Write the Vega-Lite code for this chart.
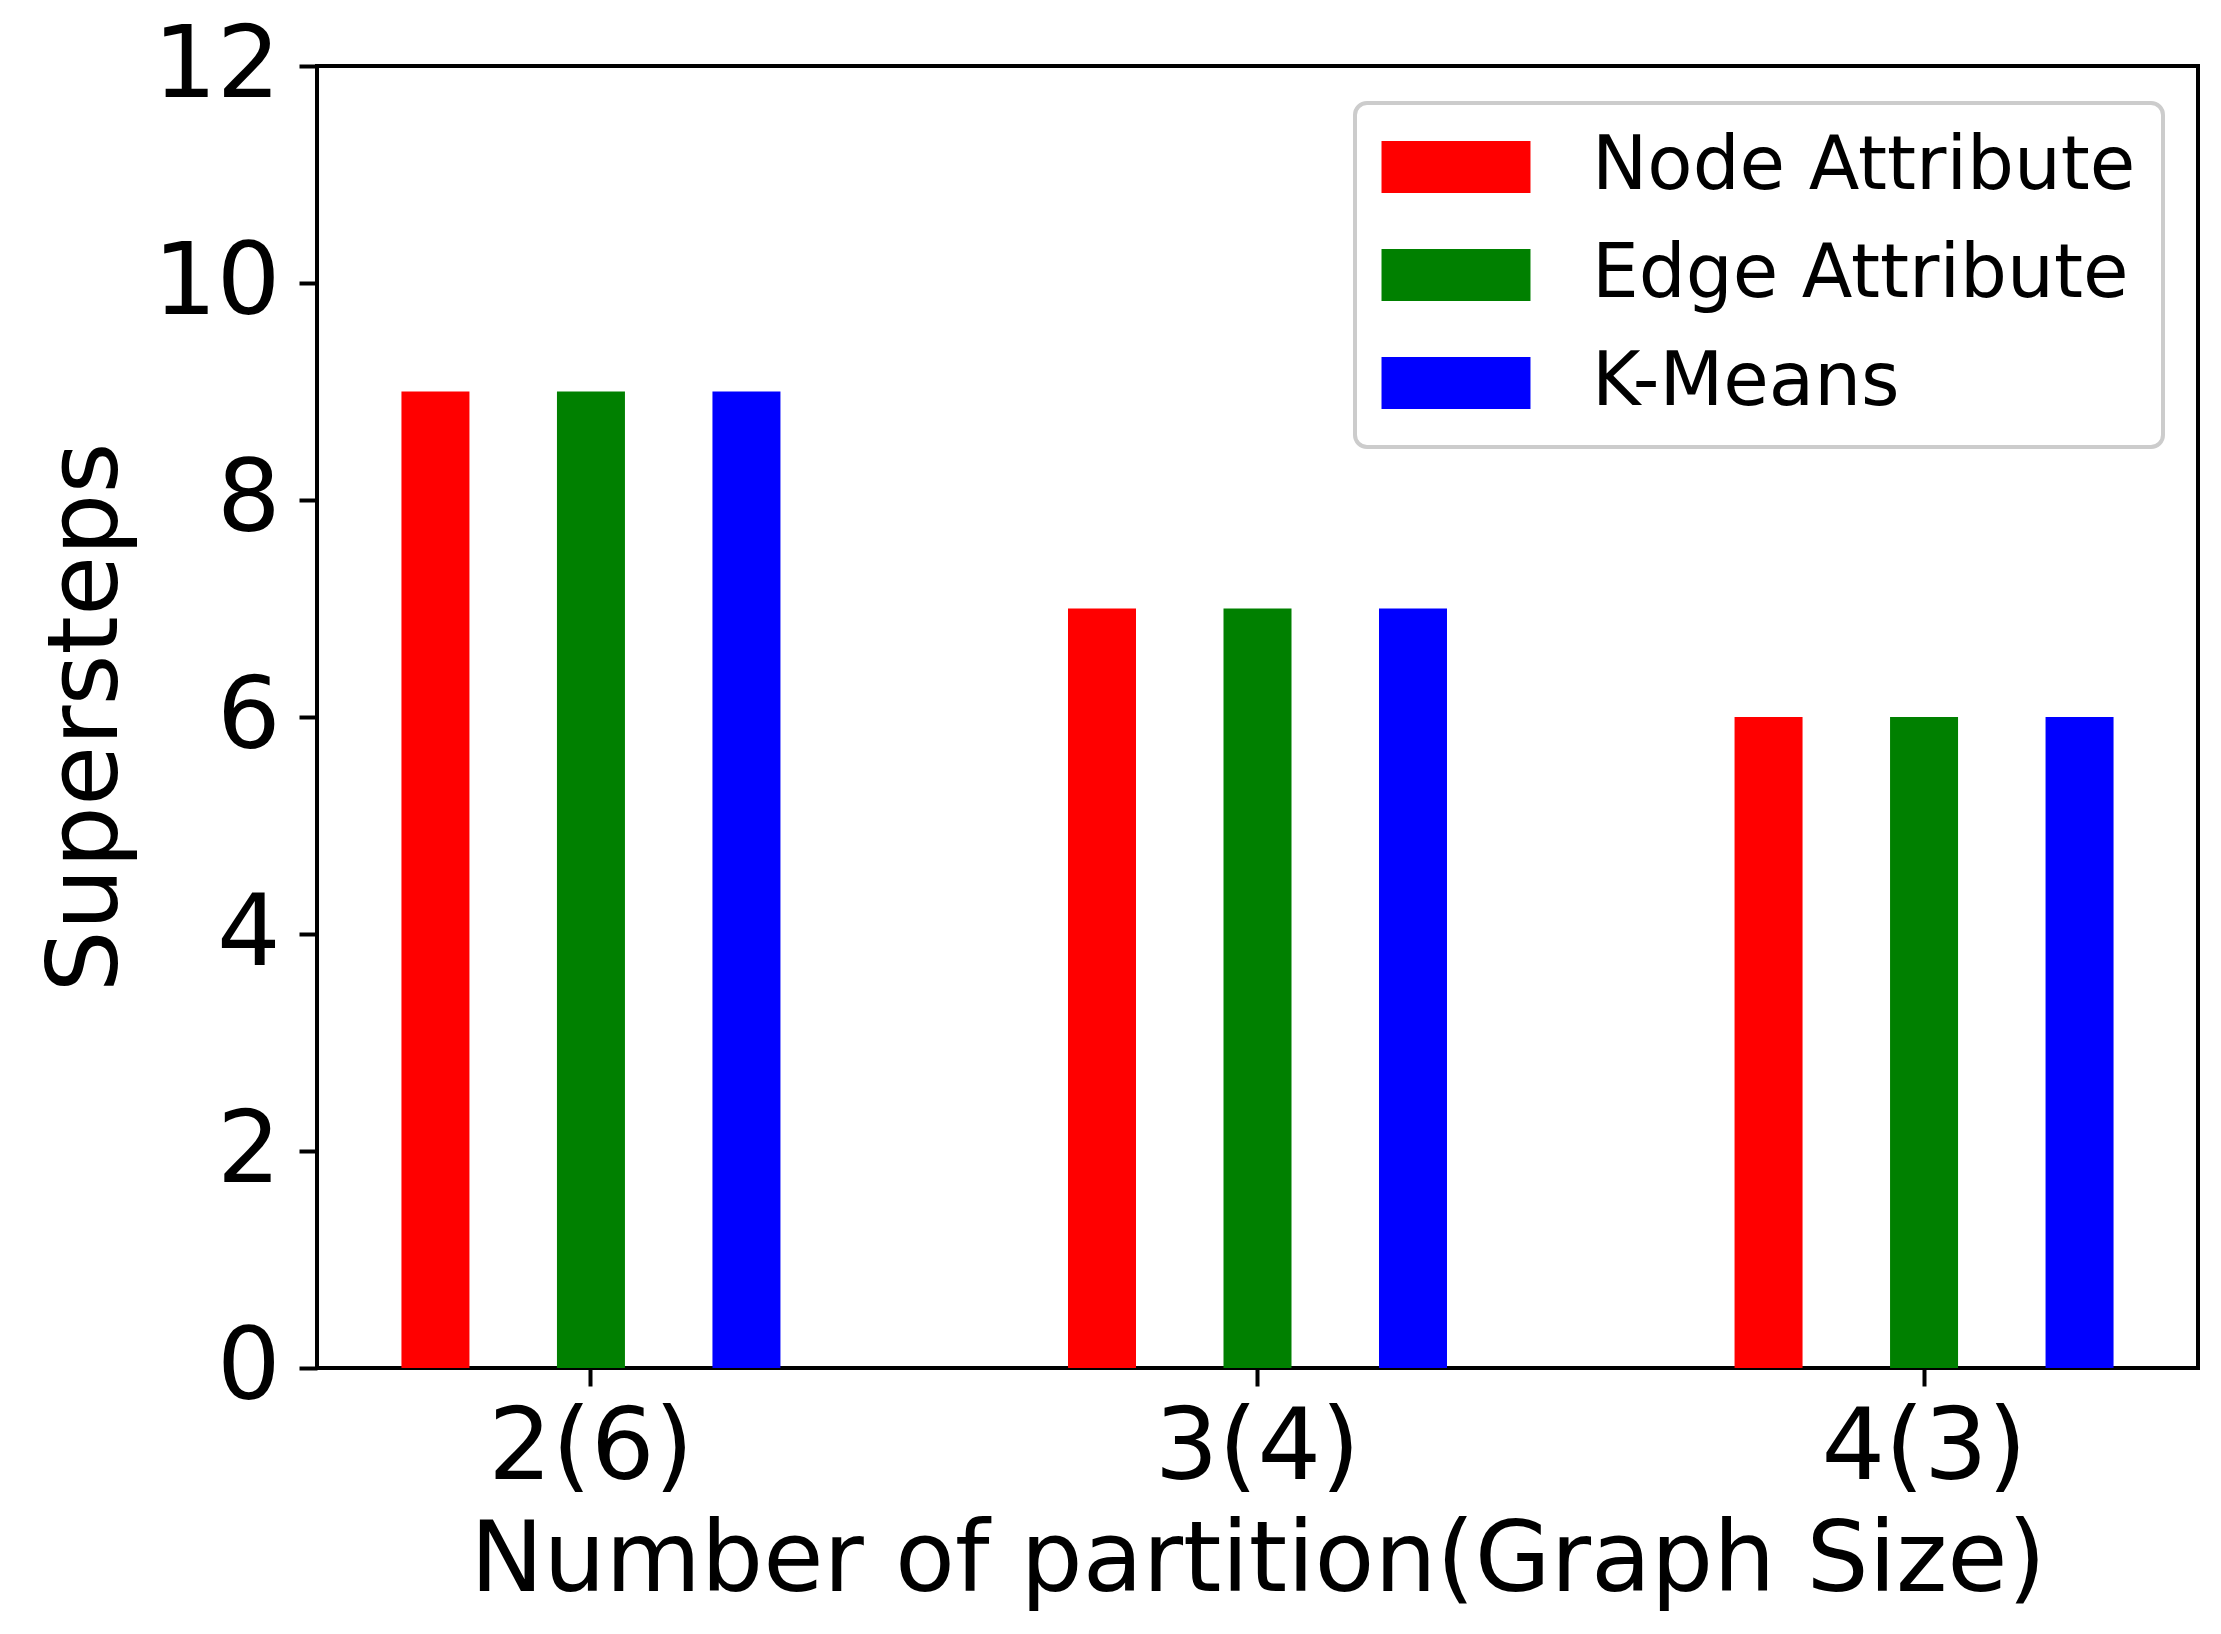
{
  "$schema": "https://vega.github.io/schema/vega-lite/v6.json",
  "autosize": "none",
  "width": 1881,
  "height": 1302,
  "padding": {"left": 317, "top": 66, "right": 23, "bottom": 266},
  "background": "white",
  "data": {
    "values": [
      {"partition": "2(6)", "method": "Node Attribute", "supersteps": 9},
      {"partition": "2(6)", "method": "Edge Attribute", "supersteps": 9},
      {"partition": "2(6)", "method": "K-Means", "supersteps": 9},
      {"partition": "3(4)", "method": "Node Attribute", "supersteps": 7},
      {"partition": "3(4)", "method": "Edge Attribute", "supersteps": 7},
      {"partition": "3(4)", "method": "K-Means", "supersteps": 7},
      {"partition": "4(3)", "method": "Node Attribute", "supersteps": 6},
      {"partition": "4(3)", "method": "Edge Attribute", "supersteps": 6},
      {"partition": "4(3)", "method": "K-Means", "supersteps": 6}
    ]
  },
  "mark": {"type": "bar", "strokeWidth": 0},
  "encoding": {
    "x": {
      "field": "partition",
      "type": "nominal",
      "sort": ["2(6)", "3(4)", "4(3)"],
      "title": "Number of partition(Graph Size)",
      "scale": {"paddingInner": 0.178, "paddingOuter": 0},
      "axis": {"labelAngle": 0, "labelPadding": 13, "titlePadding": 15, "labelLimit": 0}
    },
    "xOffset": {
      "field": "method",
      "type": "nominal",
      "sort": ["Node Attribute", "Edge Attribute", "K-Means"],
      "scale": {"paddingInner": 0.5627, "paddingOuter": 0.5431}
    },
    "y": {
      "field": "supersteps",
      "type": "quantitative",
      "title": "Supersteps",
      "scale": {"domain": [0, 12], "nice": false},
      "axis": {"values": [0, 2, 4, 6, 8, 10, 12], "labelPadding": 19, "titlePadding": 15}
    },
    "color": {
      "field": "method",
      "type": "nominal",
      "sort": ["Node Attribute", "Edge Attribute", "K-Means"],
      "scale": {
        "domain": ["Node Attribute", "Edge Attribute", "K-Means"],
        "range": ["#ff0000", "#008000", "#0000ff"]
      },
      "legend": {
        "title": null,
        "orient": "none",
        "legendX": 1038,
        "legendY": 37,
        "symbolType": "M-2.865,-1H2.865V1H-2.865Z",
        "symbolSize": 2704,
        "symbolStrokeWidth": 0,
        "symbolOpacity": 1,
        "symbolOffset": 37,
        "labelOffset": 99,
        "labelFontSize": 74,
        "labelFont": "DejaVu Sans",
        "labelColor": "black",
        "labelLimit": 0,
        "rowPadding": 34,
        "padding": 27,
        "fillColor": "white",
        "strokeColor": "#cccccc",
        "cornerRadius": 12
      }
    }
  },
  "config": {
    "view": {"stroke": "black", "strokeWidth": 4},
    "legend": {"strokeWidth": 4},
    "axis": {
      "domain": false,
      "grid": false,
      "ticks": true,
      "tickSize": 18,
      "tickWidth": 4,
      "tickColor": "black",
      "labelFont": "DejaVu Sans",
      "labelFontSize": 100,
      "labelColor": "black",
      "titleFont": "DejaVu Sans",
      "titleFontSize": 98,
      "titleFontWeight": "normal",
      "titleColor": "black"
    }
  }
}
